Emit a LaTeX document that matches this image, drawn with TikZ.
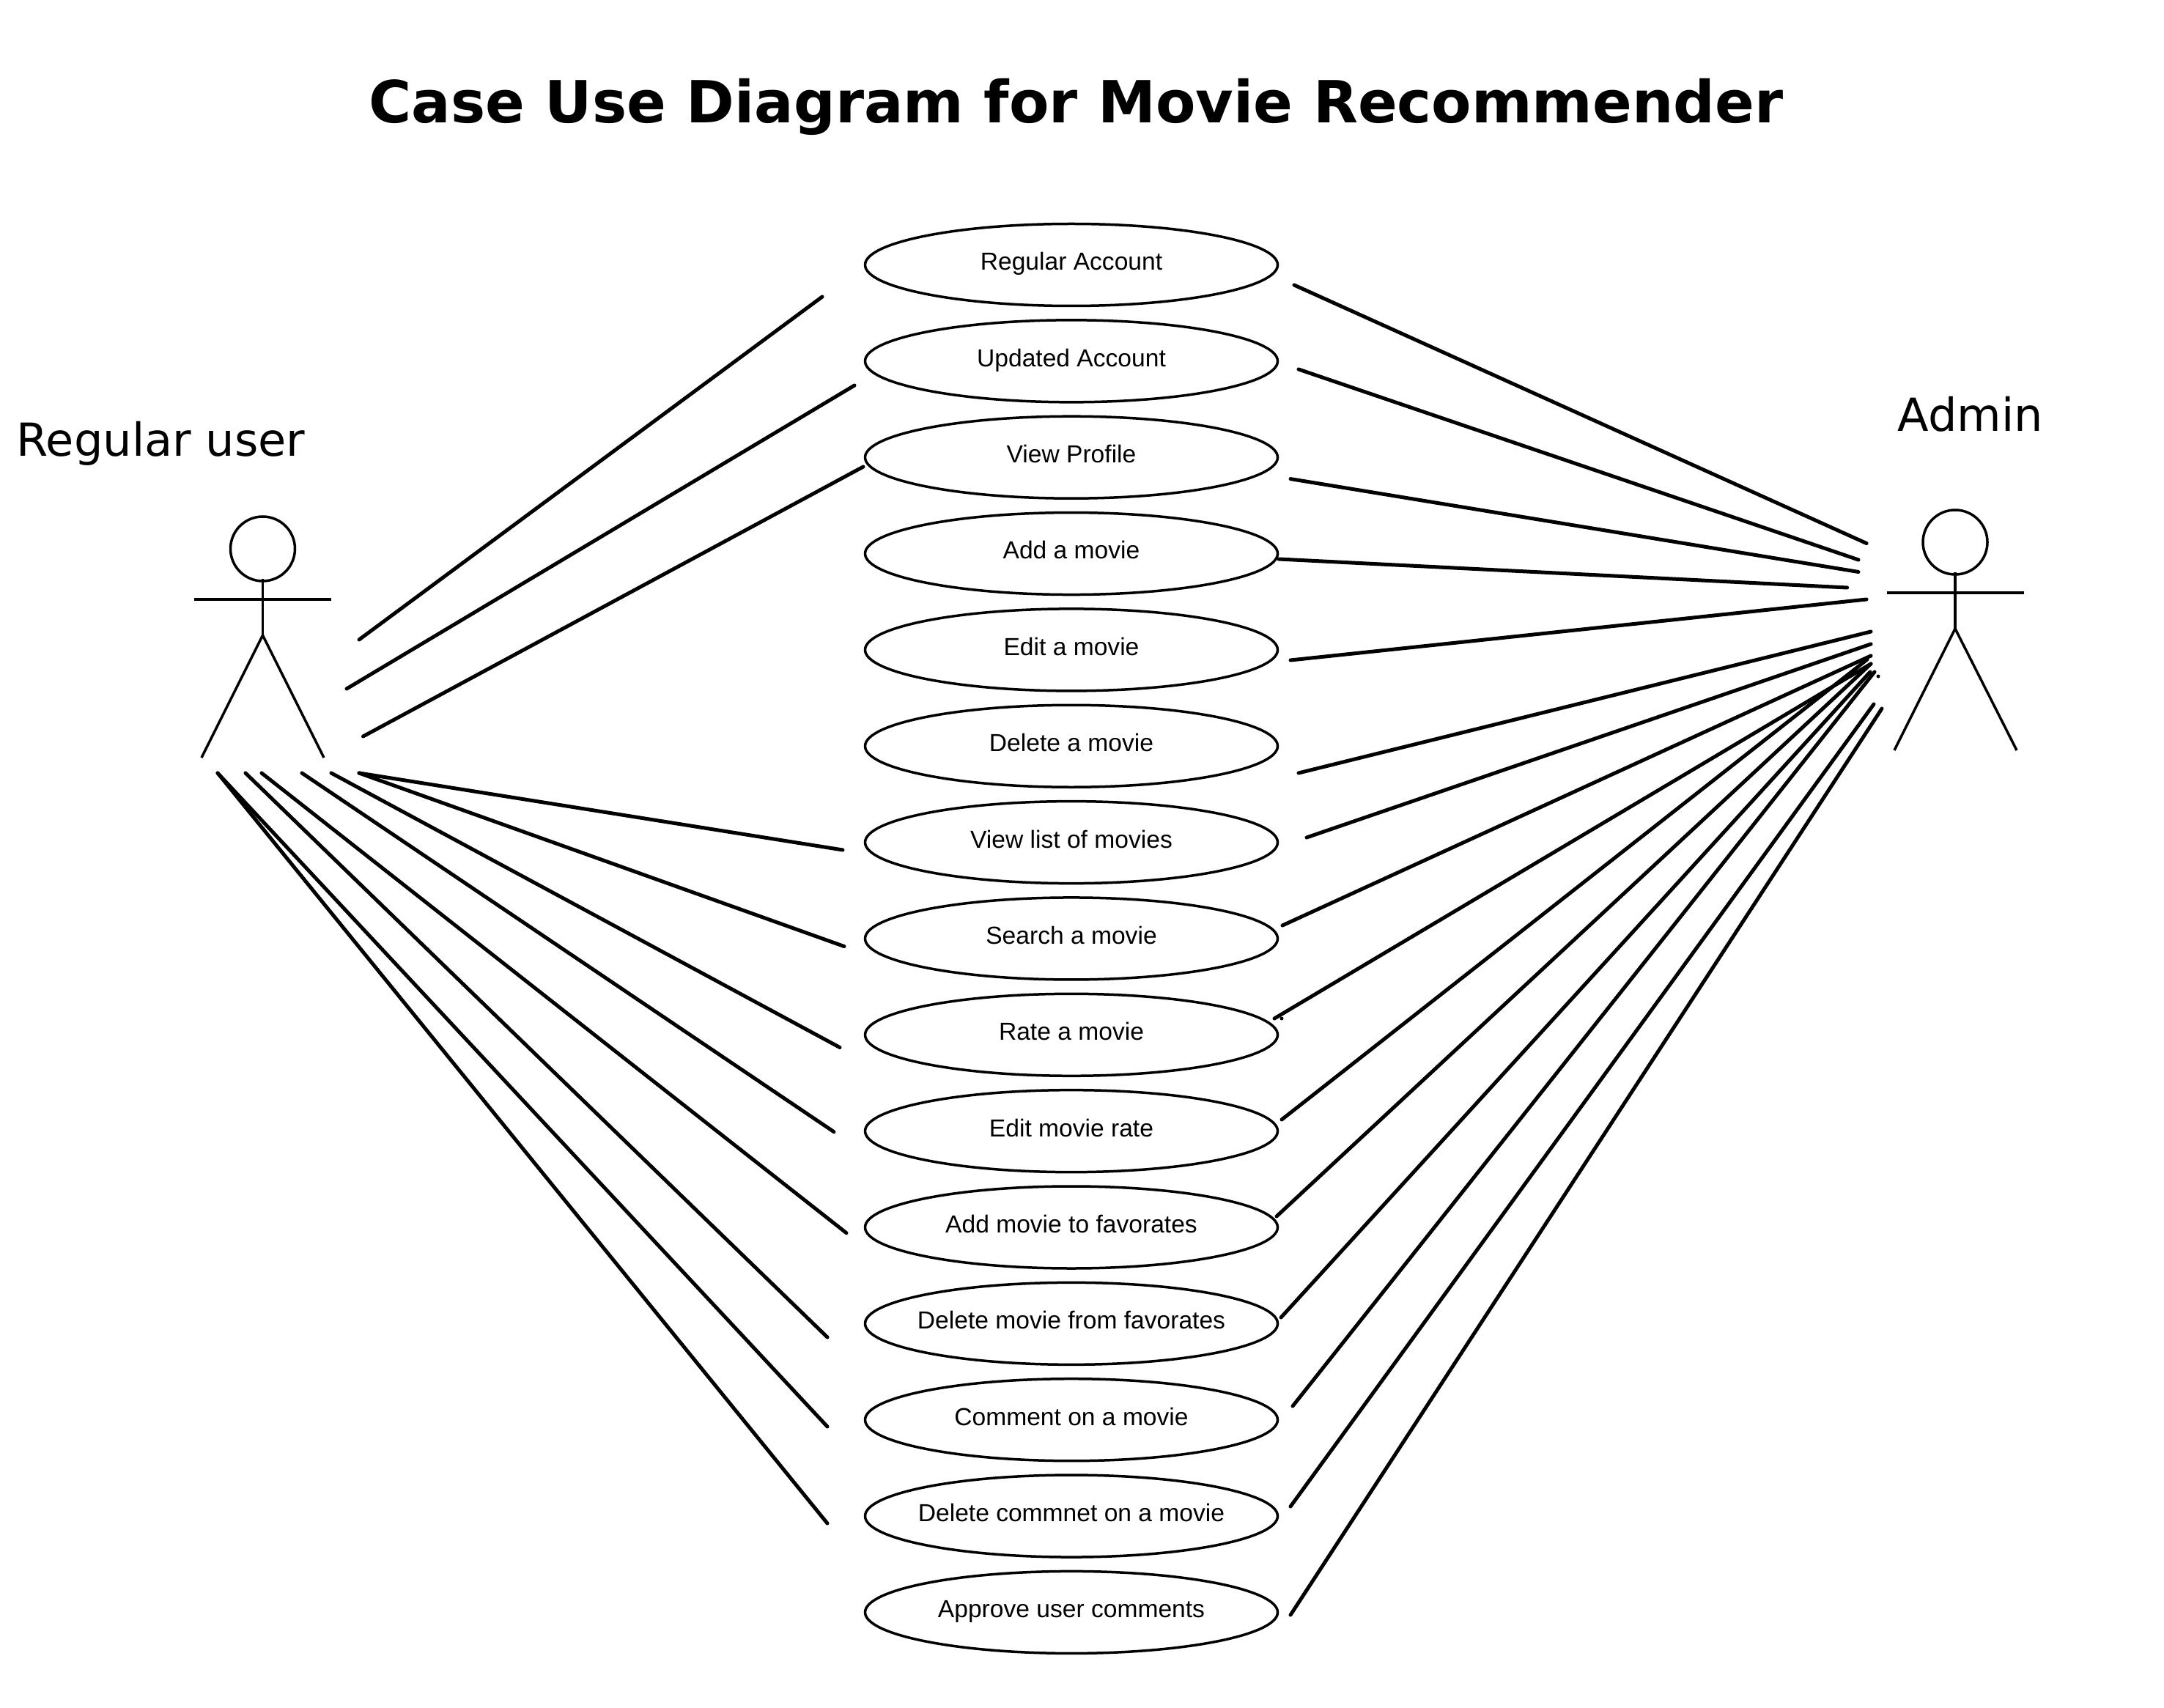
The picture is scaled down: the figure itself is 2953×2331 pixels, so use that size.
\documentclass[tikz,border=0pt]{standalone}
\usepackage{fontspec}
\setmainfont{Liberation Sans}
\newfontfamily\dejavu{DejaVu Sans}
\usetikzlibrary{shapes.geometric}
\tikzset{every picture/.style={line width=0.875pt}}
\tikzset{
	usecase/.style={draw,ellipse,inner ysep=0pt,inner xsep=-10pt,outer sep=0pt,minimum width=140.75pt,minimum height=28pt,text height=6.5pt,text depth=2.8pt,font=\fontsize{8.4}{10}\selectfont},
	assoc/.style={line width=1.25pt,line cap=round},
	actorname/.style={anchor=base,inner sep=0pt,font=\dejavu\fontsize{15.55}{18}\selectfont},
	speck/.style={circle,fill,inner sep=0pt,minimum size=1.25pt}
}

\begin{document}
\begin{tikzpicture}[x=0.25pt,y=0.25pt,yscale=-1,xscale=1]
	\useasboundingbox (0,0) rectangle (2953,2331);
	
	% Text Node
	\node [anchor=base,inner sep=0pt,font=\dejavu\bfseries\fontsize{19.82}{24}\selectfont] (title) at (1468.5,168) {Case Use Diagram for Movie Recommender};
	\node [actorname] (regname) at (219.5,623) {Regular user};
	\node [actorname] (admname) at (2689,589) {Admin};
	
	%Use cases
	\node [usecase] (uc1) at (1462,361.5) {Regular Account};
	\node [usecase] (uc2) at (1462,492.85) {Updated Account};
	\node [usecase] (uc3) at (1462,624.2) {View Profile};
	\node [usecase] (uc4) at (1462,755.55) {Add a movie};
	\node [usecase] (uc5) at (1462,886.9) {Edit a movie};
	\node [usecase] (uc6) at (1462,1018.25) {Delete a movie};
	\node [usecase] (uc7) at (1462,1149.6) {View list of movies};
	\node [usecase] (uc8) at (1462,1280.95) {Search a movie};
	\node [usecase] (uc9) at (1462,1412.3) {Rate a movie};
	\node [usecase] (uc10) at (1462,1543.65) {Edit movie rate};
	\node [usecase] (uc11) at (1462,1675) {Add movie to favorates};
	\node [usecase] (uc12) at (1462,1806.35) {Delete movie from favorates};
	\node [usecase] (uc13) at (1462,1937.7) {Comment on a movie};
	\node [usecase] (uc14) at (1462,2069.05) {Delete commnet on a movie};
	\node [usecase] (uc15) at (1462,2200.4) {Approve user comments};
	
	%Actor: regular user
	\node [draw,circle,inner sep=0pt,outer sep=0pt,minimum size=22pt] (reghead) at (358.5,749) {};
	\coordinate (regneck) at (358.5,790);
	\coordinate (reghip) at (358.5,867);
	\coordinate (regarml) at (265,818);
	\coordinate (regarmr) at (452,818);
	\coordinate (reglegl) at (275,1034);
	\coordinate (reglegr) at (442,1034);
	\draw (regneck) -- (reghip);
	\draw (regarml) -- (regarmr);
	\draw (reglegl) -- (reghip) -- (reglegr);
	
	%Actor: admin
	\node [draw,circle,inner sep=0pt,outer sep=0pt,minimum size=22pt] (admhead) at (2668,740) {};
	\coordinate (admneck) at (2668,781);
	\coordinate (admhip) at (2668,858);
	\coordinate (admarml) at (2575,809);
	\coordinate (admarmr) at (2762,809);
	\coordinate (admlegl) at (2585,1024);
	\coordinate (admlegr) at (2752,1024);
	\draw (admneck) -- (admhip);
	\draw (admarml) -- (admarmr);
	\draw (admlegl) -- (admhip) -- (admlegr);
	
	%Straight Lines: regular user side
	\coordinate (ra1) at (490,873);    \coordinate (rb1) at (1122,405);
	\coordinate (ra2) at (473,940);    \coordinate (rb2) at (1166,526);
	\coordinate (ra3) at (495.5,1005); \coordinate (rb3) at (1178,637);
	\coordinate (ra7) at (490,1055);   \coordinate (rb7) at (1150,1160);
	\coordinate (ra8) at (490,1055);   \coordinate (rb8) at (1152,1291.6);
	\coordinate (ra9) at (452,1055);   \coordinate (rb9) at (1146,1429.5);
	\coordinate (ra10) at (412,1055);  \coordinate (rb10) at (1138,1544.7);
	\coordinate (ra11) at (357,1055);  \coordinate (rb11) at (1155,1682.7);
	\coordinate (ra12) at (335,1055);  \coordinate (rb12) at (1129,1825);
	\coordinate (ra13) at (297,1055);  \coordinate (rb13) at (1129,1947);
	\coordinate (ra14) at (297,1055);  \coordinate (rb14) at (1129,2079);
	\draw [assoc] (ra1) -- (rb1);
	\draw [assoc] (ra2) -- (rb2);
	\draw [assoc] (ra3) -- (rb3);
	\draw [assoc] (ra7) -- (rb7);
	\draw [assoc] (ra8) -- (rb8);
	\draw [assoc] (ra9) -- (rb9);
	\draw [assoc] (ra10) -- (rb10);
	\draw [assoc] (ra11) -- (rb11);
	\draw [assoc] (ra12) -- (rb12);
	\draw [assoc] (ra13) -- (rb13);
	\draw [assoc] (ra14) -- (rb14);
	
	%Straight Lines: admin side
	\coordinate (aa1) at (1766,389);    \coordinate (ab1) at (2547,741.5);
	\coordinate (aa2) at (1772,504);    \coordinate (ab2) at (2536,764);
	\coordinate (aa3) at (1761,653.6);  \coordinate (ab3) at (2536,780.5);
	\coordinate (aa4) at (1745,763);    \coordinate (ab4) at (2520.6,802);
	\coordinate (aa5) at (1761,901);    \coordinate (ab5) at (2547,818);
	\coordinate (aa6) at (1772,1055);   \coordinate (ab6) at (2553,862);
	\coordinate (aa7) at (1783,1143);   \coordinate (ab7) at (2553,879);
	\coordinate (aa8) at (1750,1263);   \coordinate (ab8) at (2553,895);
	\coordinate (aa9) at (1739,1390);   \coordinate (ab9) at (2553,906);
	\coordinate (aa10) at (1749,1528);  \coordinate (ab10) at (2548,900);
	\coordinate (aa11) at (1742,1660);  \coordinate (ab11) at (2553,906);
	\coordinate (aa12) at (1748,1798);  \coordinate (ab12) at (2552,917);
	\coordinate (aa13) at (1764,1919);  \coordinate (ab13) at (2558,917);
	\coordinate (aa14) at (1761,2056);  \coordinate (ab14) at (2557,961);
	\coordinate (aa15) at (1761,2204);  \coordinate (ab15) at (2568,967);
	\draw [assoc] (aa1) -- (ab1);
	\draw [assoc] (aa2) -- (ab2);
	\draw [assoc] (aa3) -- (ab3);
	\draw [assoc] (aa4) -- (ab4);
	\draw [assoc] (aa5) -- (ab5);
	\draw [assoc] (aa6) -- (ab6);
	\draw [assoc] (aa7) -- (ab7);
	\draw [assoc] (aa8) -- (ab8);
	\draw [assoc] (aa9) -- (ab9);
	\draw [assoc] (aa10) -- (ab10);
	\draw [assoc] (aa11) -- (ab11);
	\draw [assoc] (aa12) -- (ab12);
	\draw [assoc] (aa13) -- (ab13);
	\draw [assoc] (aa14) -- (ab14);
	\draw [assoc] (aa15) -- (ab15);
	
	%Stray marks at two line ends
	\node [speck] (speck1) at (1749,1390) {};
	\node [speck] (speck2) at (2563,923) {};
	
\end{tikzpicture}
\end{document}
